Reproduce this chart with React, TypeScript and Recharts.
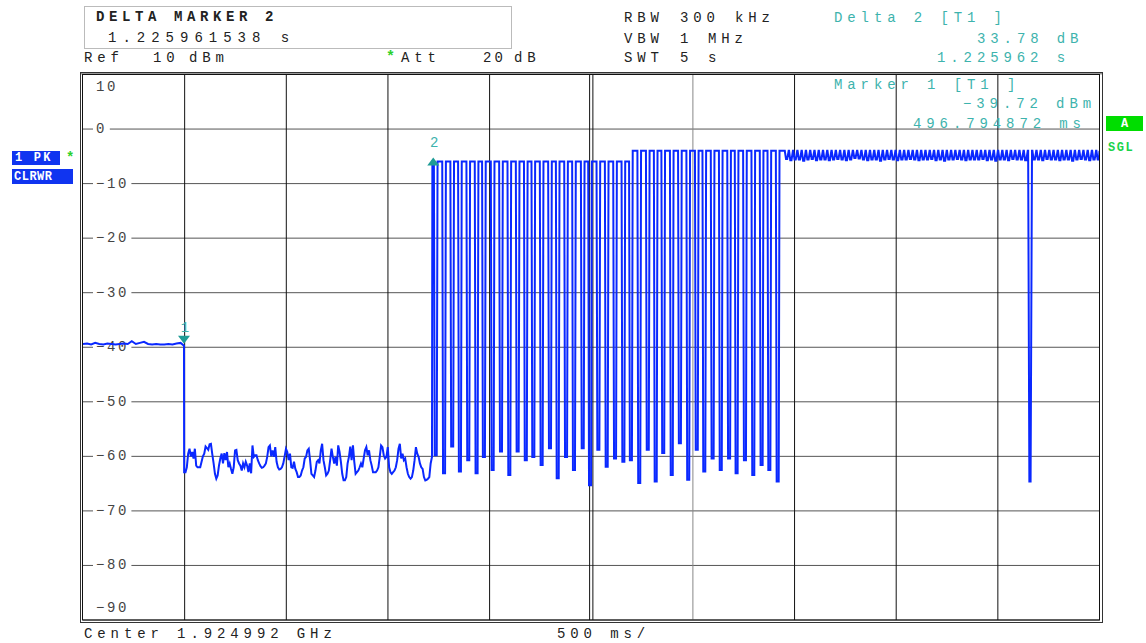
import { LineChart, Line, XAxis, YAxis, ReferenceLine, ReferenceDot } from 'recharts';

// time axis in ms, level in dBm
const xTicks = [0, 500, 1000, 1500, 2000, 2500, 3000, 3500, 4000, 4500, 5000];
const yTicks = [10, 0, -10, -20, -30, -40, -50, -60, -70, -80, -90];

// CW part before the burst starts, one value every 20 ms
const flatStep = 20;
const flatLevels = [
  -39.4, -39.3, -39.5, -39.2, -39.4, -39.5, -39.3, -39.4, -39.5, -39.4,
  -39.3, -39.4, -38.9, -39.4, -39.2, -39.0, -39.4, -39.5, -39.4, -39.5,
  -39.5, -39.4, -39.5, -39.3, -39.2,
];

// noise floor between marker 1 and the burst
const noiseStart = 497.5;
const noiseStep = 6.59;
const noiseLevels = [
  -62.9, -62.9, -62.0, -59.5, -58.6, -60.0, -59.2, -60.4, -58.6, -61.7,
  -62.0, -62.0, -62.0, -61.0, -60.0, -59.5, -58.2, -58.5, -58.8, -57.8,
  -57.7, -59.6, -61.3, -63.2, -64.1, -63.5, -61.7, -60.4, -59.5, -61.3,
  -59.4, -60.7, -59.2, -62.0, -61.3, -62.3, -63.2, -62.0, -58.9, -58.8,
  -60.7, -61.3, -61.7, -62.6, -61.3, -62.0, -61.0, -61.7, -62.9, -61.3,
  -63.1, -58.0, -60.1, -59.8, -59.8, -60.7, -61.3, -61.8, -62.1, -62.0,
  -61.7, -61.3, -60.1, -58.3, -58.0, -60.0, -58.9, -60.1, -58.3, -61.0,
  -62.0, -62.4, -62.3, -62.0, -61.3, -60.0, -58.6, -59.2, -60.7, -59.5,
  -62.0, -62.1, -61.0, -62.3, -62.9, -63.8, -63.8, -63.5, -62.6, -62.0,
  -60.4, -60.1, -58.9, -58.6, -60.7,
  -63.2, -63.5, -63.8, -62.6, -61.0, -60.7, -61.3, -58.9, -57.7, -60.7,
  -62.0, -63.5, -63.2, -62.6, -60.7, -58.6, -60.1, -61.3, -60.1, -61.7,
  -58.0, -59.2, -61.0, -63.2, -64.4, -64.4, -63.8, -61.3, -60.1, -58.2,
  -60.7, -58.0, -61.0, -63.2, -62.9, -62.6, -62.0, -61.3, -62.0, -60.4,
  -58.9, -58.3, -59.8, -58.9, -60.7, -61.7, -62.9, -62.9, -62.9, -62.6,
  -62.0, -60.1, -58.0, -58.3, -59.8, -60.4, -60.1, -58.3, -62.0, -62.9,
  -63.2, -62.9, -62.6, -62.0, -60.7, -58.6, -57.7, -60.4, -59.5, -60.7,
  -60.4, -62.0, -63.2, -63.8, -64.1, -63.8, -62.6, -60.7, -58.3, -59.5,
  -60.1, -61.3, -62.0, -62.3, -63.8, -64.4, -64.3, -64.1, -63.8, -61.3,
  -60.1,
];

// burst: rise, then gaps (dips) in the carrier
const burstRise = 1718.5;
const topEarly = -5.94;
const topLate = -4.0;
const topStep = 2700;
const dipTimes = [
  1735, 1776, 1816, 1854, 1895, 1936, 1972, 2015, 2056, 2097,
  2138, 2178, 2215, 2256, 2297, 2335, 2376, 2415, 2458, 2494,
  2535, 2576, 2617, 2658, 2695, 2736, 2778, 2817, 2854, 2896,
  2936, 2977, 3019, 3056, 3097, 3137, 3178, 3215, 3256, 3297,
  3338, 3376, 3417,
];
const dipLevels = [
  -59.8, -63.1, -58.2, -62.8, -60.7, -63.1, -60.1, -62.5, -59.1, -63.4,
  -59.1, -60.7, -60.1, -61.6, -58.5, -64.0, -60.1, -62.5, -58.5, -65.3,
  -58.8, -61.9, -60.4, -61.0, -60.7, -64.9, -58.8, -64.6, -59.4, -63.4,
  -57.6, -64.3, -58.8, -62.8, -60.4, -62.5, -60.4, -63.1, -60.7, -63.4,
  -61.6, -62.5, -64.6,
];

// steady carrier with small ripple, one dropout near 4.65 s
const rippleStart = 3450;
const ripplePeriod = 21;
const rippleLows = [
  -5.5, -5.7, -5.6, -5.6, -5.8, -5.6, -5.5, -5.7, -5.6, -5.6,
  -5.7, -5.6, -5.5, -5.6, -5.7, -5.6, -5.3, -5.4, -5.6, -5.7,
  -5.6, -5.6, -5.8, -5.6, -5.5, -5.6, -5.7, -5.6, -5.6, -5.5,
  -5.6, -5.7, -5.6, -5.6, -5.5, -5.7, -5.6, -5.8, -5.6, -5.6,
  -5.5, -5.6, -5.7, -5.6, -5.6, -5.6, -5.5, -5.7, -5.6, -5.8,
  -5.6, -5.6, -5.7, -5.5, -5.6, -5.6, -5.7, -64.6, -5.6, -5.6,
  -5.7, -5.5, -5.6, -5.6, -5.7, -5.6, -5.6, -5.8, -5.6, -5.5,
  -5.6, -5.7, -5.6, -5.6,
];

const marker1 = { t: 496.8, v: -39.72 };
const marker2 = { t: 1722.8, v: -5.94 };

const topAt = (t: number) => (t < topStep ? topEarly : topLate);

const trace: { t: number; v: number }[] = [];
flatLevels.forEach((v, i) => trace.push({ t: i * flatStep, v }));
trace.push({ t: marker1.t, v: marker1.v });
noiseLevels.forEach((v, i) => trace.push({ t: noiseStart + i * noiseStep, v }));
trace.push({ t: burstRise, v: topEarly });
dipTimes.forEach((td, i) => {
  trace.push({ t: td - 9, v: topAt(td - 9) });
  trace.push({ t: td - 5, v: dipLevels[i] });
  trace.push({ t: td + 5, v: dipLevels[i] });
  trace.push({ t: td + 9, v: topAt(td + 9) });
});
rippleLows.forEach((lv, i) => {
  const t0 = rippleStart + i * ripplePeriod;
  trace.push({ t: t0, v: topLate });
  trace.push({ t: t0 + 2, v: topLate });
  trace.push({ t: t0 + 8, v: lv });
  trace.push({ t: t0 + 14, v: lv });
});
trace.push({ t: 5000, v: topLate });

const MONO = "'Liberation Mono', 'DejaVu Sans Mono', monospace";
const TEAL = '#3db3ad';
const INK = '#222';

function YLabel(props: any) {
  const { viewBox, value } = props;
  if (!viewBox) return null;
  const x = viewBox.x;
  const y = viewBox.y;
  const txt = value === 0 ? '0' : value > 0 ? String(value) : '\u2212' + Math.abs(value);
  let dy = 0;
  let bg = true;
  if (value === 10) { dy = 12; bg = false; }
  if (value === -90) { dy = -12; bg = false; }
  const w = txt.length * 10.8 + 6;
  return (
    <g>
      {bg && <rect x={x + 10} y={y - 5} width={w} height={10} fill="#fff" />}
      <text x={x + 13} y={y + dy} dominantBaseline="central" fontFamily={MONO} fontSize={14}
        style={{ letterSpacing: 2.6 }} fill="#444">{txt}</text>
    </g>
  );
}

function Marker1Shape(props: any) {
  const { cx, cy } = props;
  return (
    <g>
      <path d={`M${cx - 6},${cy - 10} L${cx + 6},${cy - 10} L${cx},${cy - 2} Z`} fill="#1f9c96" />
      <text x={cx + 1} y={cy - 18} textAnchor="middle" dominantBaseline="central" fontFamily={MONO}
        fontSize={14} fill={TEAL}>1</text>
    </g>
  );
}

function Marker2Shape(props: any) {
  const { cx, cy } = props;
  return (
    <g>
      <path d={`M${cx - 6},${cy + 4} L${cx + 6},${cy + 4} L${cx},${cy - 4} Z`} fill="#1f9c96" />
      <text x={cx + 1} y={cy - 18} textAnchor="middle" dominantBaseline="central" fontFamily={MONO}
        fontSize={14} fill={TEAL}>2</text>
    </g>
  );
}

function T({ x, y, children, fill = INK, size = 14, ls = 4.9, weight = 'normal' }: any) {
  return (
    <text x={x} y={y} dominantBaseline="central" fontFamily={MONO} fontSize={size}
      fontWeight={weight} fill={fill} style={{ letterSpacing: ls }}>{children}</text>
  );
}

function Overlay() {
  return (
    <svg width={1146} height={643} style={{ position: 'absolute', left: 0, top: 0, pointerEvents: 'none' }}>
      {/* frame */}
      <rect x={80.5} y={72.5} width={1022} height={550} fill="none" stroke="#333" />
      <rect x={81} y={73} width={1021} height={1.5} fill="#999" />
      <rect x={82.5} y={74.5} width={1017} height={545.5} fill="none" stroke="#111" />

      {/* marker info box */}
      <rect x={84.5} y={6.5} width={427} height={42} fill="#fff" stroke="#bbb" />
      <T x={96} y={17} weight="bold" ls={4.6}>DELTA MARKER 2</T>
      <T x={108} y={38} ls={6}>1.225961538 s</T>

      <T x={84} y={58}>Ref</T>
      <T x={153} y={58}>10</T>
      <T x={189} y={58}>dBm</T>
      <T x={386} y={57} fill="#2bd12b" size={15} ls={0} weight="bold">*</T>
      <T x={401} y={58}>Att</T>
      <T x={483} y={58} ls={3}>20</T>
      <T x={514} y={58}>dB</T>

      <T x={624} y={18}>RBW</T>
      <T x={680} y={18}>300</T>
      <T x={735} y={18}>kHz</T>
      <T x={624} y={39}>VBW</T>
      <T x={680} y={39}>1</T>
      <T x={708} y={39}>MHz</T>
      <T x={624} y={58}>SWT</T>
      <T x={680} y={58}>5</T>
      <T x={708} y={58}>s</T>

      <T x={834} y={18} fill={TEAL}>Delta 2 [T1 ]</T>
      <T x={977} y={39} fill={TEAL}>33.78 dB</T>
      <T x={937} y={58} fill={TEAL}>1.225962 s</T>
      <T x={834} y={85} fill={TEAL}>Marker 1 [T1 ]</T>
      <T x={963} y={104} fill={TEAL}>{'\u2212'}39.72 dBm</T>
      <T x={913} y={124} fill={TEAL}>496.794872 ms</T>

      {/* right status */}
      <rect x={1106} y={116} width={37} height={15} fill="#00dd00" />
      <text x={1124.5} y={124} textAnchor="middle" dominantBaseline="central" fontFamily={MONO}
        fontSize={12} fontWeight="bold" fill="#fff">A</text>
      <T x={1108} y={148} fill="#19d34a" size={12} ls={1.5} weight="bold">SGL</T>

      {/* trace status */}
      <rect x={12} y={151} width={48} height={14} fill="#1034f0" />
      <T x={15} y={158} fill="#fff" size={12} ls={2.2} weight="bold">1 PK</T>
      <T x={66} y={158} fill="#2bd12b" size={14} ls={0} weight="bold">*</T>
      <rect x={12} y={169} width={61} height={15} fill="#1034f0" />
      <T x={14} y={177} fill="#fff" size={12} ls={0.5} weight="bold">CLRWR</T>

      <T x={84} y={634}>Center 1.924992 GHz</T>
      <T x={557} y={634}>500 ms/</T>
    </svg>
  );
}

export default function App() {
  return (
    <div style={{ position: 'absolute', left: 0, top: 0, width: 1146, height: 643, background: '#fff' }}>
      <LineChart width={1146} height={643} data={trace}
        margin={{ top: 74.5, right: 46.5, bottom: 23, left: 83 }}>
        <XAxis type="number" dataKey="t" domain={[0, 5000]} hide allowDataOverflow />
        <YAxis type="number" domain={[-90, 10]} hide allowDataOverflow />
        {yTicks.map(v => (
          <ReferenceLine key={'h' + v} y={v} stroke="#555" strokeWidth={1} label={<YLabel value={v} />} />
        ))}
        {xTicks.filter(t => t > 0 && t < 5000 && t !== 2500).map(t => (
          <ReferenceLine key={'v' + t} x={t} stroke={t === 3000 ? '#888' : '#111'} strokeWidth={1} />
        ))}
        <ReferenceLine x={2492} stroke="#111" strokeWidth={1} />
        <ReferenceLine x={2508} stroke="#111" strokeWidth={1} />
        <Line type="linear" dataKey="v" stroke="#0a28ff" strokeWidth={2} dot={false}
          isAnimationActive={false} />
        <ReferenceDot x={marker1.t} y={marker1.v} r={0} shape={<Marker1Shape />} />
        <ReferenceDot x={marker2.t} y={marker2.v} r={0} shape={<Marker2Shape />} />
      </LineChart>
      <Overlay />
    </div>
  );
}
